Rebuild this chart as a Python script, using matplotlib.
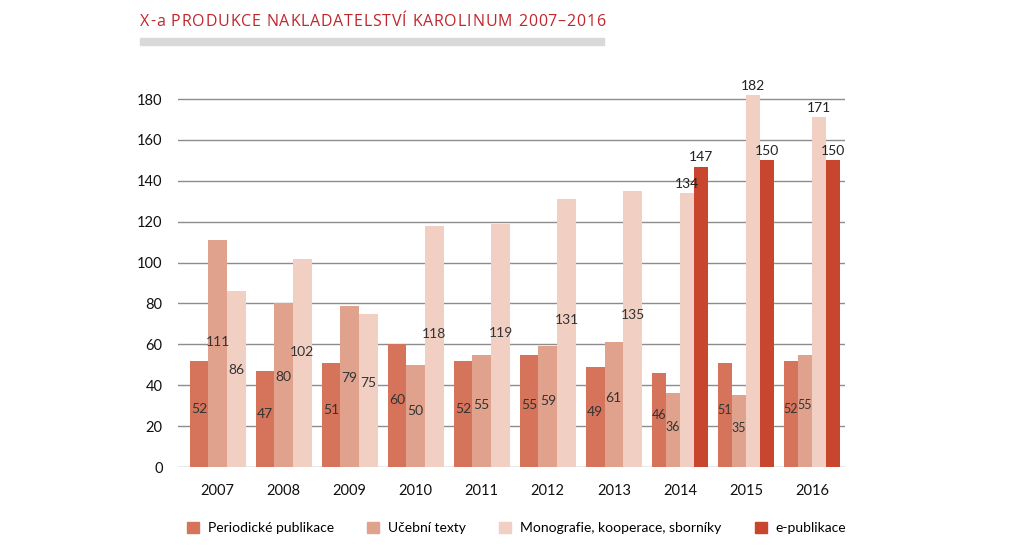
import numpy as np
import matplotlib
matplotlib.use("Agg")
import matplotlib.pyplot as plt
from matplotlib.patches import Rectangle

plt.rcParams['font.family'] = ['Lato', 'DejaVu Sans']

years = ["2007", "2008", "2009", "2010", "2011", "2012", "2013", "2014", "2015", "2016"]
series_names = ["Periodické publikace", "Učební texty", "Monografie, kooperace, sborníky", "e-publikace"]
periodicke = [52, 47, 51, 60, 52, 55, 49, 46, 51, 52]
ucebni = [111, 80, 79, 50, 55, 59, 61, 36, 35, 55]
monografie = [86, 102, 75, 118, 119, 131, 135, 134, 182, 171]
epublikace = [None, None, None, None, None, None, None, 147, 150, 150]
title = "X-a PRODUKCE NAKLADATELSTVÍ KAROLINUM 2007–2016"

colors = ["#d5745b", "#e1a28d", "#f1d0c3", "#c8452e"]
values = [periodicke, ucebni, monografie, epublikace]

fig = plt.figure(figsize=(10.23, 5.56), dpi=100)
ax = fig.add_axes([0.174, 0.160, 0.652, 0.6986])

group_w = 0.85
for i, yr in enumerate(years):
    present = [s for s in range(4) if values[s][i] is not None]
    n = len(present)
    bw = group_w / n
    for k, s in enumerate(present):
        v = values[s][i]
        x = i - group_w / 2 + bw * (k + 0.5)
        ax.bar(x, v, width=bw, color=colors[s], zorder=3, linewidth=0)
        outside = (n == 4 and s >= 2)
        if outside:
            ax.text(x, v + 1.5, str(v), ha='center', va='bottom', fontsize=10, color='#222222', zorder=4)
        else:
            fs = 9 if n == 4 else 10
            ax.text(x, v * 0.55, str(v), ha='center', va='center', fontsize=fs, color='#333333', zorder=4)

ax.set_xlim(-0.6, 9.5)
ax.set_ylim(0, 190)
ax.set_yticks(np.arange(0, 181, 20))
ax.set_xticks(range(len(years)))
ax.set_xticklabels(years)
for sp in ax.spines.values():
    sp.set_visible(False)
ax.grid(axis='y', color='#8c8c8c', linewidth=1.0, zorder=0)
ax.tick_params(axis='both', length=0, labelsize=10.5, colors='#111111')
ax.tick_params(axis='y', pad=11)
ax.tick_params(axis='x', pad=12)

# title with letter spacing
renderer = fig.canvas.get_renderer()
x_px = 140.0
y_fig = 1 - 22 / 556
tracking = 0.85
tfont = ['Open Sans', 'DejaVu Sans']
w1 = fig.text(0, 0, 'a a', fontsize=11.5, fontfamily=tfont)
w2 = fig.text(0, 0, 'aa', fontsize=11.5, fontfamily=tfont)
space_w = w1.get_window_extent(renderer).width - w2.get_window_extent(renderer).width
w1.remove(); w2.remove()
for ch in title:
    t = fig.text(x_px / 1023, y_fig, ch, color='#c0262c', fontsize=11.5, ha='left', va='center',
                 fontfamily=tfont)
    width = space_w if ch == ' ' else t.get_window_extent(renderer).width
    x_px += width + tracking

fig.patches.append(Rectangle((140 / 1023, 1 - 45 / 556), 464 / 1023, 7 / 556,
                             transform=fig.transFigure, color='#d9d9d9', zorder=1))

handles = [Rectangle((0, 0), 1, 1, color=c) for c in colors]
fig.legend(handles, series_names, loc='center', bbox_to_anchor=(0.505, 0.05), ncol=4,
           frameon=False, fontsize=10, handlelength=0.85, handleheight=0.85,
           handletextpad=0.65, columnspacing=2.4)

fig.savefig("out.png", dpi=100)
